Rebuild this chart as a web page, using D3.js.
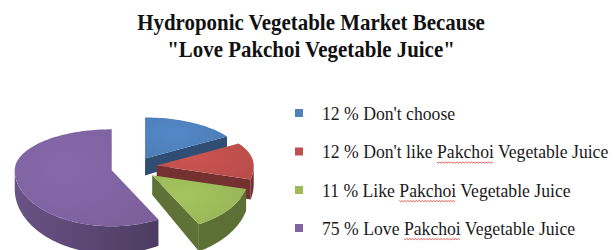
<!DOCTYPE html>
<html>
<head>
<meta charset="utf-8">
<script src="https://cdn.jsdelivr.net/npm/d3@7"></script>
<style>
  body { margin: 0; background: #fff; }
  svg { display: block; }
</style>
</head>
<body>
<div id="chart"></div>
<script>
// category names as printed in the legend
const categories = [
    "12 % Don't choose",
    "12 % Don't like Pakchoi Vegetable Juice",
    "11 % Like Pakchoi Vegetable Juice",
    "75 % Love Pakchoi Vegetable Juice"
];
// slice sizes as they appear in the drawn pie
const sliceValues = [16, 13, 13, 58];
const sliceColors = ["#4f81bd", "#c0504d", "#9bbb59", "#8064a2"];
const titleLines = ["Hydroponic Vegetable Market Because", "\"Love Pakchoi Vegetable Juice\""];

const width = 613, height = 250;
let svg = d3.select("div#chart").append("svg")
    .attr("width", width)
    .attr("height", height);
let defs = svg.append("defs");

// title, squeezed a bit horizontally like the original
let titleG = svg.append("g").attr("transform", "translate(311,0) scale(0.93,1)");
titleLines.forEach((line, i) => {
    titleG.append("text")
        .attr("x", 0)
        .attr("y", 30 + i * 27)
        .attr("text-anchor", "middle")
        .attr("font-family", "'Liberation Serif', 'Times New Roman', serif")
        .attr("font-weight", "bold")
        .attr("font-size", 22.5)
        .attr("fill", "#111")
        .text(line);
});

// ---- pseudo 3D exploded pie ----
const cx = 134, cy = 167, rx = 97, ryBack = 41, ryFront = 56, explode = 23;
// wall thickness grows toward the front (perspective)
const depth = d3.scaleLinear().domain([120, 230]).range([11, 28]);

function ryAt(a) { return Math.cos(a) > 0 ? ryBack : ryFront; }
function pt(a, r, ox, oy) {
    return [cx + ox + r * rx * Math.sin(a), cy + oy - r * ryAt(a) * Math.cos(a)];
}
function down(p) { return [p[0], p[1] + depth(p[1])]; }
function arcPts(a0, a1, ox, oy) {
    let n = Math.max(2, Math.ceil((a1 - a0) / 0.03));
    return d3.range(n + 1).map(k => pt(a0 + (a1 - a0) * k / n, 1, ox, oy));
}
let line = d3.line();

let arcs = d3.pie().sort(null).value(d => d)(sliceValues);

// wall shading: lighter on the left, darker toward the right
arcs.forEach((d, i) => {
    let c = d3.color(sliceColors[i]);
    let g = defs.append("linearGradient")
        .attr("id", "wall" + i)
        .attr("gradientUnits", "userSpaceOnUse")
        .attr("x1", 15).attr("x2", 160).attr("y1", 0).attr("y2", 0);
    g.append("stop").attr("offset", 0).attr("stop-color", c.darker(0.55));
    g.append("stop").attr("offset", 1).attr("stop-color", c.darker(1.45));
    // top faces get a faint highlight toward the tip
    let t = defs.append("radialGradient")
        .attr("id", "top" + i)
        .attr("cx", "35%").attr("cy", "40%").attr("r", "75%");
    t.append("stop").attr("offset", 0).attr("stop-color", c.brighter(0.15));
    t.append("stop").attr("offset", 1).attr("stop-color", c.darker(0.1));
});

let pieG = svg.append("g");
[0, 1, 2, 3].forEach(i => {
    let d = arcs[i];
    let a0 = d.startAngle, a1 = d.endAngle, mid = (a0 + a1) / 2;
    let ox = explode * Math.sin(mid);
    let oy = -explode * (ryAt(mid) / rx) * Math.cos(mid);
    let tip = [cx + ox, cy + oy];
    let base = d3.color(sliceColors[i]);

    // outer curved wall (front half only)
    let w0 = Math.max(a0, Math.PI / 2), w1 = Math.min(a1, 3 * Math.PI / 2);
    if (w1 > w0) {
        let top = arcPts(w0, w1, ox, oy);
        let bottom = top.map(down).reverse();
        pieG.append("path")
            .attr("d", line(top.concat(bottom)) + "Z")
            .attr("fill", "url(#wall" + i + ")");
    }
    // radial faces that face the viewer
    [[a0, Math.sin(a0) < -1e-6], [a1, Math.sin(a1) > 1e-6]].forEach(([a, vis]) => {
        if (!vis) return;
        let rim = pt(a, 1, ox, oy);
        pieG.append("path")
            .attr("d", line([tip, rim, down(rim), down(tip)]) + "Z")
            .attr("fill", base.darker(1.4));
    });
    // top face
    pieG.append("path")
        .attr("d", line([tip].concat(arcPts(a0, a1, ox, oy))) + "Z")
        .attr("fill", "url(#top" + i + ")");
});

// ---- legend ----
const legendY = [113, 151.5, 190, 228];
let legend = svg.append("g");
categories.forEach((name, i) => {
    legend.append("rect")
        .attr("x", 295)
        .attr("y", legendY[i] - 4)
        .attr("width", 8)
        .attr("height", 8)
        .attr("fill", sliceColors[i]);

    let g = legend.append("g")
        .attr("transform", "translate(322," + (legendY[i] + 6.5) + ") scale(0.955,1)");
    let t = g.append("text")
        .attr("x", 0).attr("y", 0)
        .attr("font-family", "'Liberation Serif', 'Times New Roman', serif")
        .attr("font-size", 18.5)
        .attr("fill", "#1a1a1a")
        .text(name);

    // red spell-check squiggle under "Pakchoi"
    let idx = name.indexOf("Pakchoi");
    if (idx >= 0) {
        let node = t.node();
        let x0 = node.getSubStringLength(0, idx);
        let len = node.getSubStringLength(idx, 7);
        let pts = d3.range(0, Math.floor(len / 1.5) + 1).map(k => [x0 + k * 1.5, 4 + (k % 2 ? 1.2 : 0)]);
        g.append("path")
            .attr("d", line(pts))
            .attr("fill", "none")
            .attr("stroke", "#e8403a")
            .attr("stroke-width", 0.9);
    }
});
</script>
</body>
</html>
